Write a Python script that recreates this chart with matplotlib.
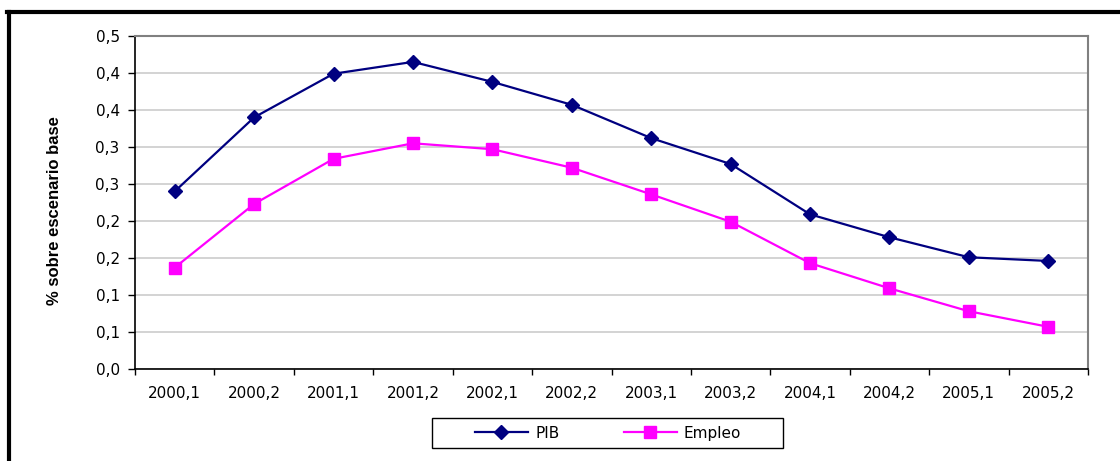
import numpy as np
import matplotlib.pyplot as plt
from matplotlib.lines import Line2D
from matplotlib.patches import Rectangle

# Datos del gráfico
periodos = ['2000,1', '2000,2', '2001,1', '2001,2', '2002,1', '2002,2',
            '2003,1', '2003,2', '2004,1', '2004,2', '2005,1', '2005,2']
pib = [0.240, 0.340, 0.399, 0.415, 0.388, 0.357,
       0.312, 0.277, 0.209, 0.178, 0.151, 0.146]
empleo = [0.137, 0.223, 0.284, 0.305, 0.297, 0.272,
          0.236, 0.199, 0.143, 0.109, 0.078, 0.057]
y_ticks = [0.0, 0.05, 0.10, 0.15, 0.20, 0.25, 0.30, 0.35, 0.40, 0.45]
y_tick_labels = ['0,0', '0,1', '0,1', '0,2', '0,2', '0,3', '0,3', '0,4', '0,4', '0,5']

W, H = 1120, 461
fig = plt.figure(figsize=(W / 100, H / 100), dpi=100)
ax = fig.add_axes([135 / W, 1 - 369 / H, (1088 - 135) / W, (369 - 36) / H])

x = np.arange(len(periodos))
ax.plot(x, pib, color='#000080', lw=1.6, marker='D', markersize=7,
        markerfacecolor='#000080', markeredgecolor='#000080', label='PIB')
ax.plot(x, empleo, color='#FF00FF', lw=1.6, marker='s', markersize=9,
        markerfacecolor='#FF00FF', markeredgecolor='#FF00FF', label='Empleo')

# Ejes
ax.set_xlim(-0.5, len(periodos) - 0.5)
ax.set_ylim(0, 0.45)
ax.set_yticks(y_ticks)
ax.set_yticklabels(y_tick_labels)
ax.set_xticks(x)
ax.set_xticklabels(periodos)
ax.set_xticks(np.arange(-0.5, len(periodos), 1), minor=True)

fuente = 'DejaVu Sans'
for lab in ax.get_xticklabels() + ax.get_yticklabels():
    lab.set_fontfamily(fuente)
    lab.set_fontsize(11)

ax.tick_params(axis='x', which='major', length=0, pad=12)
ax.tick_params(axis='x', which='minor', length=4, width=1, direction='out')
ax.tick_params(axis='y', which='major', length=5, width=1, direction='out', pad=6)

ax.grid(True, axis='y', color='#cccccc', lw=1.2)
ax.set_axisbelow(True)
for s in ['left', 'bottom']:
    ax.spines[s].set_color('black')
    ax.spines[s].set_linewidth(1.2)
for s in ['top', 'right']:
    ax.spines[s].set_color('#808080')
    ax.spines[s].set_linewidth(1.5)

ax.set_ylabel('% sobre escenario base', fontfamily='Liberation Sans',
              fontweight='bold', fontsize=12, labelpad=24)
ax.yaxis.label.set_y(0.477)

# Leyenda
leg = fig.legend(loc='center', bbox_to_anchor=(608 / W, 1 - 433 / H), ncol=2,
                 frameon=False, numpoints=1, handlelength=3.5, handletextpad=0.45,
                 columnspacing=4.2, borderpad=0,
                 prop={'family': fuente, 'size': 11})
fig.add_artist(Rectangle((432 / W, 1 - 448 / H), (783 - 432) / W, 30 / H,
                         transform=fig.transFigure, fill=False,
                         edgecolor='black', lw=1))

# Borde exterior
fig.add_artist(Line2D([7 / W, 1], [1 - 12 / H, 1 - 12 / H],
                      transform=fig.transFigure, color='black', lw=3))
fig.add_artist(Line2D([8.5 / W, 8.5 / W], [0, 1 - 12 / H],
                      transform=fig.transFigure, color='black', lw=3))

fig.savefig('out.png', dpi=100)
